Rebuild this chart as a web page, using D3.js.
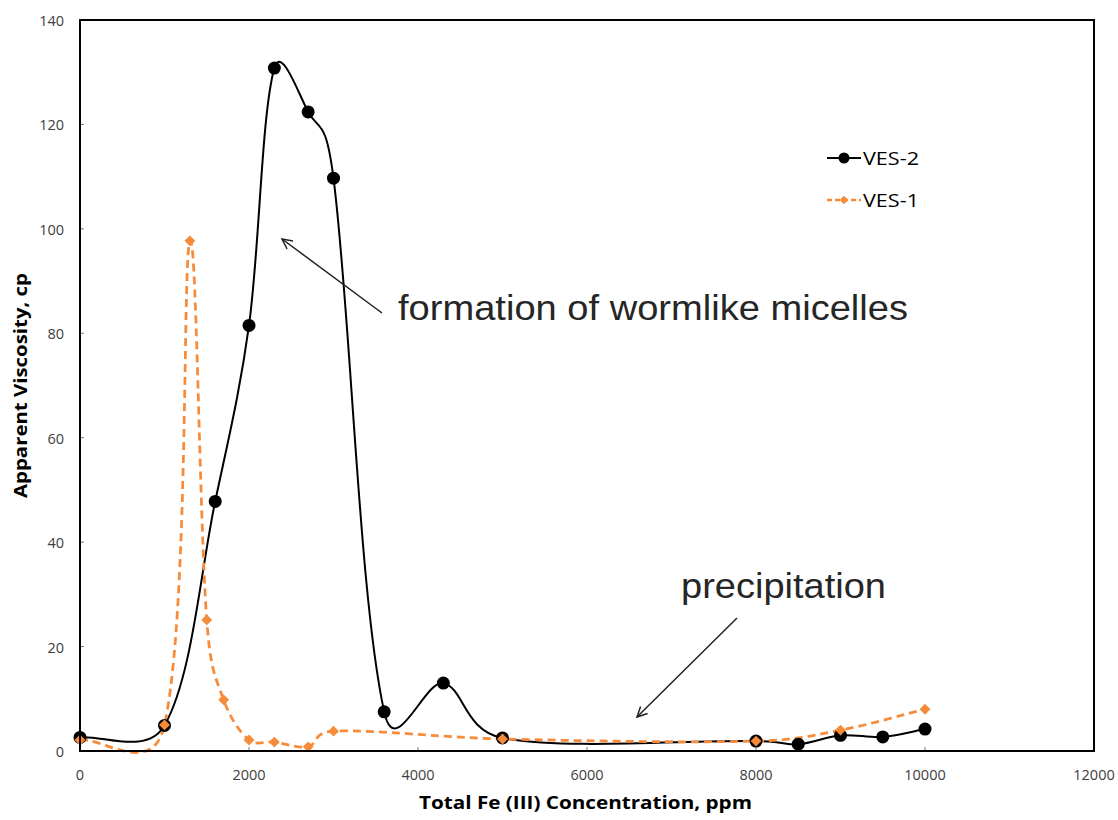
<!DOCTYPE html>
<html>
<head>
<meta charset="utf-8">
<script src="https://cdn.jsdelivr.net/npm/d3@7"></script>
<style>
  html, body { margin: 0; padding: 0; background: #fff; }
  svg { display: block; }
</style>
</head>
<body>
<svg id="chart" width="1118" height="820"></svg>
<script>
// Fe(III) concentration (ppm) vs apparent viscosity (cp)
const ves2Fe   = [0, 1000, 1600, 2000, 2300, 2700, 3000, 3600, 4300, 5000, 8000, 8500, 9000, 9500, 10000];
const ves2Visc = [2.6, 4.9, 47.8, 81.5, 130.8, 122.4, 109.7, 7.5, 13.0, 2.5, 1.9, 1.3, 3.0, 2.7, 4.2];

const ves1Fe   = [0, 1000, 1300, 1500, 1700, 2000, 2300, 2700, 3000, 5000, 8000, 9000, 10000];
const ves1Visc = [2.1, 5.0, 97.7, 25.1, 9.8, 2.1, 1.7, 0.8, 3.8, 2.3, 1.9, 4.0, 8.0];

const xTicks = [0, 2000, 4000, 6000, 8000, 10000, 12000];
const yTicks = [0, 20, 40, 60, 80, 100, 120, 140];

const seriesNames = ["VES-2", "VES-1"];
const xTitle = "Total Fe (III) Concentration, ppm";
const yTitle = "Apparent Viscosity, cp";
const noteMicelles = "formation of wormlike micelles";
const notePrecip = "precipitation";

// Smoothed Bezier through screen points: tangent parallel to the neighbour chord,
// split between the two sides by a blend of even and length-weighted shares.
function smoothPath(pts, f = 1 / 3, w = 0.5) {
  const p = d3.path();
  const n = pts.length;
  const dist = (a, b) => Math.hypot(b[0] - a[0], b[1] - a[1]);
  const ctrl = pts.map((pt, i) => {
    const prev = pts[Math.max(0, i - 1)];
    const next = pts[Math.min(n - 1, i + 1)];
    const tx = next[0] - prev[0], ty = next[1] - prev[1];
    const dPrev = i > 0 ? dist(prev, pt) : 0;
    const dNext = i < n - 1 ? dist(pt, next) : 0;
    const sum = dPrev + dNext || 1;
    const kIn = f * (w * 0.5 + (1 - w) * dPrev / sum);
    const kOut = f * (w * 0.5 + (1 - w) * dNext / sum);
    return {
      cin: [pt[0] - tx * kIn, pt[1] - ty * kIn],
      cout: [pt[0] + tx * kOut, pt[1] + ty * kOut]
    };
  });
  p.moveTo(pts[0][0], pts[0][1]);
  for (let i = 1; i < n; i++) {
    const a = ctrl[i - 1].cout, b = ctrl[i].cin;
    p.bezierCurveTo(a[0], a[1], b[0], b[1], pts[i][0], pts[i][1]);
  }
  return p.toString();
}

(function draw() {
  const svg = d3.select("#chart");
  const pLeft = 80, pRight = 1094, pTop = 20, pBottom = 751;

  const x = d3.scaleLinear().domain([0, 12000]).range([pLeft, pRight]);
  const y = d3.scaleLinear().domain([0, 140]).range([pBottom, pTop]);

  const black = "#000000";
  const orange = "#F68B3A";
  const uiFont = "'Open Sans', 'Liberation Sans', sans-serif";

  // tick marks (inside the frame)
  svg.append("g").selectAll("line").data(xTicks).join("line")
    .attr("x1", d => x(d)).attr("x2", d => x(d))
    .attr("y1", pBottom).attr("y2", pBottom - 4)
    .attr("stroke", "#777").attr("stroke-width", 1);
  svg.append("g").selectAll("line").data(yTicks).join("line")
    .attr("x1", pLeft).attr("x2", pLeft + 4)
    .attr("y1", d => y(d)).attr("y2", d => y(d))
    .attr("stroke", "#777").attr("stroke-width", 1);

  // tick labels
  svg.append("g").selectAll("text").data(xTicks).join("text")
    .attr("x", d => x(d)).attr("y", 780)
    .attr("text-anchor", "middle")
    .attr("font-family", uiFont)
    .attr("font-size", 14.5).attr("fill", "#404040")
    .text(d => d);
  svg.append("g").selectAll("text").data(yTicks).join("text")
    .attr("x", 64).attr("y", d => y(d) + 6)
    .attr("text-anchor", "end")
    .attr("font-family", uiFont)
    .attr("font-size", 14.5).attr("fill", "#404040")
    .text(d => d);

  // axis titles
  svg.append("text")
    .attr("x", 419).attr("y", 809)
    .attr("font-family", uiFont)
    .attr("font-weight", "bold").attr("font-size", 18.5).attr("fill", "#000")
    .attr("textLength", 333).attr("lengthAdjust", "spacingAndGlyphs")
    .text(xTitle);
  svg.append("text")
    .attr("transform", `translate(27, 498) rotate(-90)`)
    .attr("font-family", uiFont)
    .attr("font-weight", "bold").attr("font-size", 18.5).attr("fill", "#000")
    .attr("textLength", 225).attr("lengthAdjust", "spacingAndGlyphs")
    .text(yTitle);

  // series lines (smoothed)
  const ves2 = d3.zip(ves2Fe, ves2Visc);
  const ves1 = d3.zip(ves1Fe, ves1Visc);
  const toScreen = data => data.map(d => [x(d[0]), y(d[1])]);

  svg.append("path")
    .attr("d", smoothPath(toScreen(ves2))).attr("fill", "none")
    .attr("stroke", black).attr("stroke-width", 2);

  svg.append("path")
    .attr("d", smoothPath(toScreen(ves1))).attr("fill", "none")
    .attr("stroke", orange).attr("stroke-width", 2.75)
    .attr("stroke-dasharray", "8,5");

  // markers
  svg.append("g").selectAll("circle").data(ves2).join("circle")
    .attr("cx", d => x(d[0])).attr("cy", d => y(d[1]))
    .attr("r", 6.5).attr("fill", black);

  const diamond = d3.symbol().type(d3.symbolDiamond2).size(75);
  svg.append("g").selectAll("path").data(ves1).join("path")
    .attr("transform", d => `translate(${x(d[0])},${y(d[1])})`)
    .attr("d", diamond).attr("fill", orange);

  // plot frame
  svg.append("rect")
    .attr("x", pLeft).attr("y", pTop)
    .attr("width", pRight - pLeft).attr("height", pBottom - pTop)
    .attr("fill", "none").attr("stroke", "#000").attr("stroke-width", 2);

  // legend
  const legend = svg.append("g");
  const legendRows = [
    { name: seriesNames[0], color: black, dash: null, mark: "circle", ly: 158 },
    { name: seriesNames[1], color: orange, dash: "5,3", mark: "diamond", ly: 200 }
  ];
  legendRows.forEach(r => {
    legend.append("line")
      .attr("x1", 827).attr("x2", 861).attr("y1", r.ly).attr("y2", r.ly)
      .attr("stroke", r.color).attr("stroke-width", r.mark === "circle" ? 2 : 2.5)
      .attr("stroke-dasharray", r.dash);
    if (r.mark === "circle") {
      legend.append("circle").attr("cx", 844).attr("cy", r.ly).attr("r", 5.5).attr("fill", r.color);
    } else {
      legend.append("path").attr("transform", `translate(844,${r.ly})`)
        .attr("d", d3.symbol().type(d3.symbolDiamond2).size(45)).attr("fill", r.color);
    }
    legend.append("text")
      .attr("x", 863).attr("y", r.ly + 7)
      .attr("font-family", uiFont)
      .attr("font-size", 19).attr("fill", "#000")
      .attr("textLength", 56).attr("lengthAdjust", "spacingAndGlyphs")
      .text(r.name);
  });

  // annotations
  const defs = svg.append("defs");
  defs.append("marker")
    .attr("id", "openArrow")
    .attr("viewBox", "0 0 12 12").attr("refX", 11).attr("refY", 6)
    .attr("markerWidth", 12).attr("markerHeight", 12)
    .attr("markerUnits", "userSpaceOnUse")
    .attr("orient", "auto")
    .append("path").attr("d", "M1,1 L11,6 L1,11")
    .attr("fill", "none").attr("stroke", "#222").attr("stroke-width", 1.5);

  svg.append("line")
    .attr("x1", 382).attr("y1", 313).attr("x2", 282).attr("y2", 239)
    .attr("stroke", "#222").attr("stroke-width", 1.5)
    .attr("marker-end", "url(#openArrow)");
  svg.append("line")
    .attr("x1", 737).attr("y1", 618).attr("x2", 637).attr("y2", 717)
    .attr("stroke", "#222").attr("stroke-width", 1.5)
    .attr("marker-end", "url(#openArrow)");

  svg.append("text")
    .attr("x", 398).attr("y", 320)
    .attr("font-family", "'Liberation Sans', Arial, sans-serif")
    .attr("font-size", 35).attr("fill", "#262626")
    .attr("textLength", 510).attr("lengthAdjust", "spacingAndGlyphs")
    .text(noteMicelles);
  svg.append("text")
    .attr("x", 681).attr("y", 598)
    .attr("font-family", "'Liberation Sans', Arial, sans-serif")
    .attr("font-size", 35).attr("fill", "#262626")
    .attr("textLength", 205).attr("lengthAdjust", "spacingAndGlyphs")
    .text(notePrecip);
})();
</script>
</body>
</html>
